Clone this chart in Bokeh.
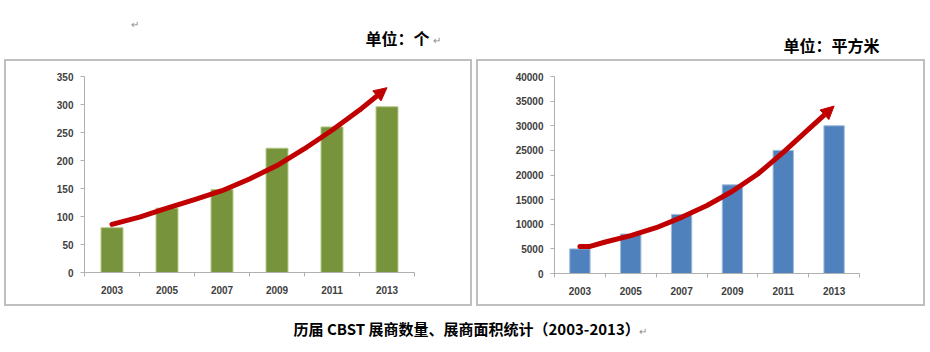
from bokeh.plotting import figure
from bokeh.layouts import column, row
from bokeh.models import (Range1d, LinearAxis, FixedTicker, Label, Arrow, NormalHead, Spacer)
from bokeh.embed import file_html
from bokeh.resources import INLINE

# ---------------- data ----------------
years = [2003, 2005, 2007, 2009, 2011, 2013]
year_labels = ["2003", "2005", "2007", "2009", "2011", "2013"]

exhibitors = [80, 115, 148, 222, 260, 296]            # 单位：个
area = [5000, 8000, 12000, 18000, 25000, 30000]        # 单位：平方米

trend_left_years = [2003, 2004, 2005, 2006, 2007, 2008, 2009, 2010, 2011, 2012, 2013]
trend_left_vals = [86, 99, 115, 130, 146, 167, 191, 221, 254, 290, 330]

trend_right_years = [2003, 2003.4, 2004, 2005, 2006, 2007, 2008, 2009, 2010, 2011, 2012, 2013]
trend_right_vals = [5500, 5500, 6400, 7700, 9300, 11400, 13800, 16700, 20200, 24600, 29300, 34000]

left_yticks = [0, 50, 100, 150, 200, 250, 300, 350]
right_yticks = [0, 5000, 10000, 15000, 20000, 25000, 30000, 35000, 40000]

title_left = "单位：个"
title_right = "单位：平方米"
caption = "历届 CBST 展商数量、展商面积统计（2003-2013）"

CJK = "Noto Sans CJK SC"
AX = "#b0b0b0"
LBL = "#404040"
RED = "#C00000"


def pos(y):
    return (y - years[0]) / 2 + 0.5


def chart(w, h, ax_x, ax_w, ax_yb, ax_h, vals, ymax, yticks, trend_x, trend_y, color, edge):
    n = len(years)
    ux = ax_w / n
    uy = ax_h / ymax
    p = figure(width=w, height=h, output_backend="svg", toolbar_location=None,
               x_range=Range1d(-ax_x / ux, (w - ax_x) / ux),
               y_range=Range1d(-ax_yb / uy, (h - ax_yb) / uy),
               x_axis_location=None, y_axis_location=None, min_border=0)
    p.outline_line_color = "#bfbfbf"
    p.outline_line_width = 3
    p.xgrid.visible = False
    p.ygrid.visible = False
    p.background_fill_color = "white"
    p.border_fill_color = "white"

    xs = [pos(y) for y in years]
    p.vbar(x=xs, top=vals, bottom=0, width=0.4, fill_color=color, line_color=edge, line_width=1)

    # y axis
    ya = LinearAxis(ticker=FixedTicker(ticks=yticks, minor_ticks=[]), fixed_location=0,
                    bounds=(0, ymax))
    ya.axis_line_color = AX
    ya.major_tick_line_color = AX
    ya.major_tick_out = 4
    ya.major_tick_in = 0
    ya.minor_tick_line_color = None
    ya.major_label_text_font = "Liberation Sans"
    ya.major_label_text_font_style = "bold"
    ya.major_label_text_font_size = "10px"
    ya.major_label_text_color = LBL
    ya.major_label_standoff = 7
    p.add_layout(ya, "left")

    # x axis: labels at bar centres, tick marks at category boundaries
    xa = LinearAxis(ticker=FixedTicker(ticks=xs, minor_ticks=list(range(n + 1))), fixed_location=0,
                    bounds=(0, n))
    xa.major_label_overrides = {x: lab for x, lab in zip(xs, year_labels)}
    xa.axis_line_color = AX
    xa.major_tick_line_color = None
    xa.major_tick_out = 4
    xa.major_tick_in = 0
    xa.minor_tick_line_color = AX
    xa.minor_tick_out = 4
    xa.minor_tick_in = 0
    xa.major_label_text_font = "Liberation Sans"
    xa.major_label_text_font_style = "bold"
    xa.major_label_text_font_size = "10px"
    xa.major_label_text_color = LBL
    xa.major_label_standoff = 9
    p.add_layout(xa, "below")

    # trend arrow
    tx = [pos(y) for y in trend_x]
    p.line(tx[:-1], trend_y[:-1], line_color=RED, line_width=5, line_cap="round", line_join="round")
    p.add_layout(Arrow(end=NormalHead(size=13, fill_color=RED, line_color=RED),
                       x_start=tx[-2], y_start=trend_y[-2], x_end=tx[-1], y_end=trend_y[-1],
                       line_color=RED, line_width=5))
    return p


left = chart(468, 247, 80, 330, 34, 196, exhibitors, 350, left_yticks,
             trend_left_years, trend_left_vals, "#77933C", "#b5cb8a")
right = chart(449, 247, 78, 305, 33, 197, area, 40000, right_yticks,
              trend_right_years, trend_right_vals, "#4F81BD", "#9fbbdc")


def text_fig(w, h):
    f = figure(width=w, height=h, output_backend="svg", toolbar_location=None,
               x_range=Range1d(0, w), y_range=Range1d(h, 0),
               x_axis_location=None, y_axis_location=None, min_border=0)
    f.outline_line_color = None
    f.xgrid.visible = False
    f.ygrid.visible = False
    return f


top = text_fig(930, 59)
top.add_layout(Label(x=130, y=23, text="↵", text_font_size="10px", text_color="#8c8c8c",
                     text_baseline="middle", text_font=CJK))
top.add_layout(Label(x=365, y=37, text=title_left, text_font_size="16px", text_font_style="bold",
                     text_color="black", text_baseline="middle", text_font=CJK))
top.add_layout(Label(x=432, y=39, text="↵", text_font_size="10px", text_color="#8c8c8c",
                     text_baseline="middle", text_font=CJK))
top.add_layout(Label(x=783, y=44, text=title_right, text_font_size="16px", text_font_style="bold",
                     text_color="black", text_baseline="middle", text_font=CJK))

cap = text_fig(930, 46)
cap.add_layout(Label(x=293, y=22, text=caption, text_font_size="15px", text_font_style="bold",
                     text_color="black", text_baseline="middle", text_font=CJK))
cap.add_layout(Label(x=638, y=24, text="↵", text_font_size="10px", text_color="#8c8c8c",
                     text_baseline="middle", text_font=CJK))

layout = column(top,
                row(Spacer(width=4, height=247), left, Spacer(width=4, height=247), right,
                    Spacer(width=5, height=247)),
                cap)

open("out.html", "w").write(file_html(layout, INLINE))
